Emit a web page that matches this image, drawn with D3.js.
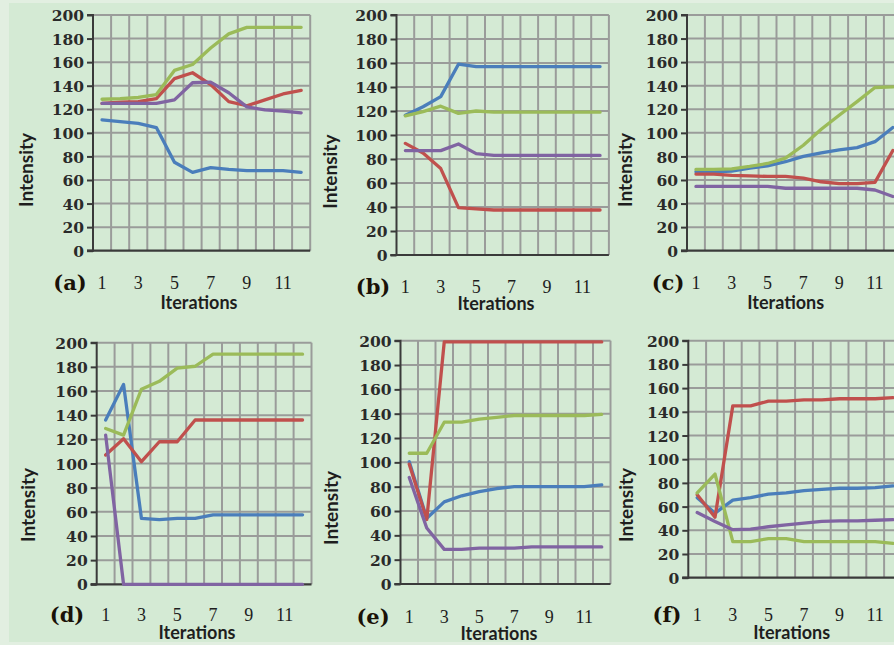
<!DOCTYPE html>
<html>
<head>
<meta charset="utf-8">
<script src="https://cdn.jsdelivr.net/npm/d3@7"></script>
<style>
  html, body { margin: 0; padding: 0; background: #e2efe1; }
  svg { display: block; }
</style>
</head>
<body>
<svg id="chart" width="894" height="645"></svg>
<script>
// ---------------- DATA ----------------
const iterations = [1, 2, 3, 4, 5, 6, 7, 8, 9, 10, 11, 12];
const xTickLabels = [1, 3, 5, 7, 9, 11];
const yTicks = [0, 20, 40, 60, 80, 100, 120, 140, 160, 180, 200];
const panelLabels = ["(a)", "(b)", "(c)", "(d)", "(e)", "(f)"];
const xTitle = "Iterations";
const yTitle = "Intensity";
const seriesNames = ["blue", "red", "green", "purple"];

const aBlue   = [111, 109.5, 108, 104.5, 75, 66.5, 70.5, 69, 68, 68, 68, 66.5];
const aRed    = [125, 126, 126.5, 129, 146, 151, 141, 126.5, 123, 128, 133, 136];
const aGreen  = [128.5, 129, 130, 132.5, 153, 158, 172, 184, 189.5, 189.5, 189.5, 189.5];
const aPurple = [125, 125, 125, 125, 128, 142.5, 143, 134, 122, 119.5, 118.5, 117];

const bBlue   = [116.5, 123.5, 132, 159, 157, 157, 157, 157, 157, 157, 157, 157];
const bRed    = [93, 85, 72, 39.5, 38.5, 37.5, 37.5, 37.5, 37.5, 37.5, 37.5, 37.5];
const bGreen  = [116, 119.5, 124, 118, 120, 119, 119, 119, 119, 119, 119, 119];
const bPurple = [87, 87, 87, 92.5, 84.5, 83, 83, 83, 83, 83, 83, 83];

const cBlue   = [67, 67, 67.5, 70, 72, 75.5, 80, 83, 85.5, 87.5, 92.5, 104.5];
const cRed    = [65, 65, 64, 63.5, 63, 63, 61.5, 58.5, 57, 57, 58, 85];
const cGreen  = [69, 69, 69.5, 71.5, 74, 78.5, 89.5, 103, 115, 126.5, 138.5, 139];
const cPurple = [54.5, 54.5, 54.5, 54.5, 54.5, 53, 53, 53, 53, 53, 51.5, 46];

const dBlue   = [136, 165.5, 54.5, 53.5, 54.5, 54.5, 57.5, 57.5, 57.5, 57.5, 57.5, 57.5];
const dRed    = [107, 120.5, 101.5, 118, 118, 136, 136, 136, 136, 136, 136, 136];
const dGreen  = [129, 123.5, 161.5, 168, 179, 180.5, 190.5, 190.5, 190.5, 190.5, 190.5, 190.5];
const dPurple = [123.5, 0, 0, 0, 0, 0, 0, 0, 0, 0, 0, 0];

const eBlue   = [100.5, 54, 67.5, 72.5, 76, 78.5, 80, 80, 80, 80, 80, 81.5];
const eRed    = [98.5, 53, 199, 199, 199, 199, 199, 199, 199, 199, 199, 199];
const eGreen  = [107.5, 107.5, 133, 133, 135.5, 137, 138.5, 138.5, 138.5, 138.5, 138.5, 139.5];
const ePurple = [87.5, 46, 28.5, 28.5, 29.5, 29.5, 29.5, 30.5, 30.5, 30.5, 30.5, 30.5];

const fBlue   = [67.5, 54.5, 65.5, 67.5, 70.5, 71.5, 73.5, 74.5, 75.5, 75.5, 76, 77.5];
const fRed    = [70, 51, 145, 145, 149, 149, 150, 150, 151, 151, 151, 152];
const fGreen  = [71.5, 87.5, 30.5, 30.5, 33, 33, 30.5, 30.5, 30.5, 30.5, 30.5, 29];
const fPurple = [55, 47.5, 40.5, 41, 43, 44.5, 46, 47.5, 48, 48, 48.5, 49];

const panelSeries = [
  [aBlue, aRed, aGreen, aPurple],
  [bBlue, bRed, bGreen, bPurple],
  [cBlue, cRed, cGreen, cPurple],
  [dBlue, dRed, dGreen, dPurple],
  [eBlue, eRed, eGreen, ePurple],
  [fBlue, fRed, fGreen, fPurple]
];

// ---------------- LAYOUT / STYLE ----------------
const colors = { blue: "#4a7ebb", red: "#c0504d", green: "#9bbb59", purple: "#8064a2" };
const layout = [
  { left: 93,    band: 18.1, yBottom: 250.7, yTop: 15,    labX: 70,  labY: 283,   titX: 199,   titY: 302.5, ytX: 26.7, ytY: 170 },
  { left: 396.5, band: 17.7, yBottom: 255,   yTop: 15,    labX: 373, labY: 286.7, titX: 496,   titY: 304,   ytX: 330,  ytY: 171.7 },
  { left: 687,   band: 17.9, yBottom: 250.7, yTop: 15,    labX: 668, labY: 282.7, titX: 785.7, titY: 302.5, ytX: 625,  ytY: 170 },
  { left: 96.7,  band: 17.9, yBottom: 584.3, yTop: 342.7, labX: 67,  labY: 615,   titX: 197,   titY: 632.5, ytX: 28,   ytY: 505 },
  { left: 400.5, band: 17.5, yBottom: 584,   yTop: 340.7, labX: 373, labY: 616.7, titX: 499,   titY: 634,   ytX: 331.7,ytY: 508 },
  { left: 688.3, band: 17.8, yBottom: 577.7, yTop: 340.7, labX: 667, labY: 615,   titX: 791.7, titY: 632.5, ytX: 626,  ytY: 505 }
];

const svg = d3.select("#chart");
svg.append("rect").attr("x", 0).attr("y", 0).attr("width", 894).attr("height", 645).attr("fill", "#e2efe1");
svg.append("rect").attr("x", 9).attr("y", 3).attr("width", 885).attr("height", 639).attr("fill", "#d4ead4");

const tickFont = "'DejaVu Serif', serif";
const catFont = "'Liberation Serif', 'Times New Roman', serif";
const titleFont = "Lato, 'Open Sans', sans-serif";

layout.forEach((L, i) => {
  const g = svg.append("g");
  const x = d3.scaleBand().domain(iterations).range([L.left, L.left + L.band * iterations.length]);
  const y = d3.scaleLinear().domain([0, 200]).range([L.yBottom, L.yTop]);
  const right = L.left + L.band * iterations.length;

  // horizontal gridlines
  g.selectAll(".hg").data(yTicks.filter(t => t > 0)).join("line")
    .attr("x1", L.left).attr("x2", right)
    .attr("y1", d => y(d)).attr("y2", d => y(d))
    .attr("stroke", "#9a9c9a").attr("stroke-width", 2);
  // vertical gridlines at category boundaries
  g.selectAll(".vg").data(iterations).join("line")
    .attr("x1", d => x(d) + x.bandwidth()).attr("x2", d => x(d) + x.bandwidth())
    .attr("y1", y(0)).attr("y2", y(200))
    .attr("stroke", "#9a9c9a").attr("stroke-width", 2);

  // y axis
  const yAxis = d3.axisLeft(y).tickValues(yTicks).tickSize(6).tickPadding(3);
  const ya = g.append("g").attr("transform", `translate(${L.left},0)`).call(yAxis);
  ya.select(".domain").attr("stroke", "#3a3a3a").attr("stroke-width", 2).attr("d", `M-6,${y(200)}H0V${y(0)}H-6`);
  ya.selectAll(".tick line").attr("stroke", "#3a3a3a").attr("stroke-width", 2);
  ya.selectAll(".tick text")
    .attr("font-family", tickFont).attr("font-size", 15.5).attr("font-weight", "bold")
    .attr("fill", "#2a2a2a").attr("dy", "0.36em");

  // x axis line
  g.append("line").attr("x1", L.left - 6).attr("x2", right)
    .attr("y1", y(0)).attr("y2", y(0))
    .attr("stroke", "#3a3a3a").attr("stroke-width", 2.2);

  // x tick labels
  g.selectAll(".xl").data(xTickLabels).join("text")
    .attr("x", d => x(d) + x.bandwidth() / 2).attr("y", L.labY)
    .attr("dy", "0.35em").attr("text-anchor", "middle")
    .attr("font-family", catFont).attr("font-size", 18).attr("fill", "#1e1e1e")
    .text(d => d);

  // panel label
  g.append("text").attr("x", L.labX).attr("y", L.labY).attr("dy", "0.35em")
    .attr("text-anchor", "middle").attr("font-family", tickFont).attr("font-weight", "bold")
    .attr("font-size", 21).attr("fill", "#1a1208").text(panelLabels[i]);

  // axis titles
  g.append("text").attr("x", L.titX).attr("y", L.titY).attr("dy", "0.35em")
    .attr("text-anchor", "middle").attr("font-family", titleFont).attr("font-weight", "bold")
    .attr("font-size", 18).attr("fill", "#1e1e1e").text(xTitle);
  g.append("text").attr("transform", `translate(${L.ytX},${L.ytY}) rotate(-90)`).attr("dy", "0.35em")
    .attr("text-anchor", "middle").attr("font-family", titleFont).attr("font-weight", "bold")
    .attr("font-size", 19).attr("fill", "#1e1e1e").text(yTitle);

  // series lines
  const line = d3.line().x((d, k) => x(iterations[k]) + x.bandwidth() / 2).y(d => y(d));
  panelSeries[i].forEach((vals, s) => {
    g.append("path").datum(vals).attr("d", line)
      .attr("fill", "none").attr("stroke", colors[seriesNames[s]])
      .attr("stroke-width", 3.3).attr("stroke-linejoin", "round").attr("stroke-linecap", "round");
  });
});
</script>
</body>
</html>
